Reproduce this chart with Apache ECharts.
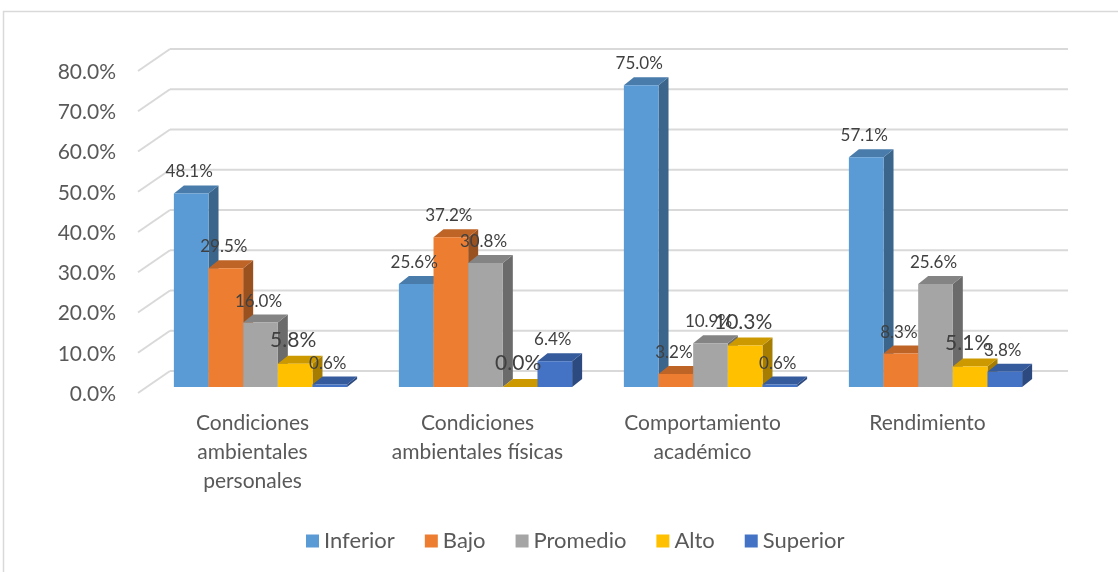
<!DOCTYPE html>
<html>
<head>
<meta charset="utf-8">
<script src="https://cdn.jsdelivr.net/npm/echarts@6/dist/echarts.min.js"></script>
<style>
  html, body { margin: 0; padding: 0; background: #ffffff; }
  #chart { width: 1118px; height: 572px; }
</style>
</head>
<body>
<div id="chart"></div>
<script>
// ---- data ----
const categories = [
  'Condiciones\nambientales\npersonales',
  'Condiciones\nambientales físicas',
  'Comportamiento\nacadémico',
  'Rendimiento'
];
const seriesNames = ['Inferior', 'Bajo', 'Promedio', 'Alto', 'Superior'];
const inferior = [48.1, 25.6, 75.0, 57.1];
const bajo     = [29.5, 37.2, 3.2, 8.3];
const promedio = [16.0, 30.8, 10.9, 25.6];
const alto     = [5.8, 0.0, 10.3, 5.1];
const superior = [0.6, 6.4, 0.6, 3.8];
const yTicks = [0, 10, 20, 30, 40, 50, 60, 70, 80];

// ---- style ----
const FONT = 'Lato, "Open Sans", sans-serif';
const faceColors = [
  { front: '#5B9BD5', top: '#497CAA', side: '#3B658B' },
  { front: '#ED7D31', top: '#BE6427', side: '#9A5120' },
  { front: '#A5A5A5', top: '#848484', side: '#6B6B6B' },
  { front: '#FFC000', top: '#CC9A00', side: '#A67D00' },
  { front: '#4472C4', top: '#365B9D', side: '#2C4A7F' }
];
const labelSizes = [17, 17, 17, 21, 17];
const GROUP_RATIO = 0.77;
const DX = 10, DY = -8;
const allValues = [inferior, bajo, promedio, alto, superior];

function barRender(si) {
  return function (params, api) {
    const cat = api.value(0), v = api.value(1);
    const base = api.coord([cat, 0]);
    const top = api.coord([cat, v]);
    const band = api.size([1, 0])[0];
    const groupW = band * GROUP_RATIO;
    const bw = groupW / seriesNames.length;
    const x0 = base[0] - groupW / 2 + si * bw;
    const x1 = x0 + bw;
    const yb = base[1], yt = top[1];
    const c = faceColors[si];
    const fs = labelSizes[si];
    return {
      type: 'group',
      children: [
        { type: 'polygon', shape: { points: [[x1, yt], [x1 + DX, yt + DY], [x1 + DX, yb + DY], [x1, yb]] },
          style: { fill: c.side } },
        { type: 'polygon', shape: { points: [[x0, yt], [x0 + DX, yt + DY], [x1 + DX, yt + DY], [x1, yt]] },
          style: { fill: c.top } },
        { type: 'rect', shape: { x: x0, y: yt, width: bw, height: yb - yt },
          style: { fill: c.front } },
        { type: 'text', z2: 100,
          style: { text: v.toFixed(1) + '%', x: (x0 + x1) / 2 - 2, y: yt + DY - (fs > 18 ? 15.5 : 13.5),
                   align: 'center', verticalAlign: 'middle',
                   fontSize: fs, fontFamily: FONT, fill: '#404040' } }
      ]
    };
  };
}

// back wall gridlines, side-wall ticks and value-axis labels (at the front floor edge)
function wallRender(params, api) {
  const cs = params.coordSys;
  const children = [];
  yTicks.forEach(t => {
    const y = api.coord([0, t])[1];
    children.push({ type: 'line', shape: { x1: cs.x + 22, y1: y - 16, x2: cs.x + cs.width + 20, y2: y - 16 },
      style: { stroke: '#d9d9d9', lineWidth: 2 } });
    children.push({ type: 'line', shape: { x1: cs.x - 10, y1: y + 6, x2: cs.x + 22, y2: y - 16 },
      style: { stroke: '#d9d9d9', lineWidth: 2 } });
    children.push({ type: 'text', style: { text: t.toFixed(1) + '%', x: cs.x - 32, y: y + 7,
      align: 'right', verticalAlign: 'middle', fontSize: 21, fontFamily: FONT, fill: '#595959' } });
  });
  return { type: 'group', children };
}

const series = [{
  type: 'custom', name: '_wall', silent: true, renderItem: wallRender,
  data: [[0, 0]], z: 1
}];
seriesNames.forEach((name, si) => {
  series.push({
    type: 'custom', name, renderItem: barRender(si), z: 2,
    itemStyle: { color: faceColors[si].front },
    data: allValues[si].map((v, i) => [i, v])
  });
});

const chart = echarts.init(document.getElementById('chart'), null, { renderer: 'canvas' });
chart.setOption({
  animation: false,
  backgroundColor: '#ffffff',
  graphic: [{
    type: 'rect', silent: true,
    shape: { x: 3.5, y: 11.5, width: 1200, height: 700 },
    style: { fill: 'none', stroke: '#d9d9d9', lineWidth: 1.5 }
  }],
  grid: { left: 148, width: 900, top: 65, height: 322 },
  xAxis: {
    type: 'category', data: categories,
    axisLine: { show: false }, axisTick: { show: false },
    axisLabel: { color: '#595959', fontSize: 21, fontFamily: FONT, lineHeight: 29, margin: 22,
                 interval: 0, padding: [0, 16, 0, 0] }
  },
  yAxis: {
    type: 'value', min: 0, max: 80, interval: 10,
    axisLine: { show: false }, axisTick: { show: false }, splitLine: { show: false },
    axisLabel: { show: false }
  },
  legend: {
    data: seriesNames, left: 301, top: 525, icon: 'rect',
    itemWidth: 13, itemHeight: 13, itemGap: 30,
    textStyle: { color: '#595959', fontSize: 22, fontFamily: FONT }
  },
  series
});
</script>
</body>
</html>
